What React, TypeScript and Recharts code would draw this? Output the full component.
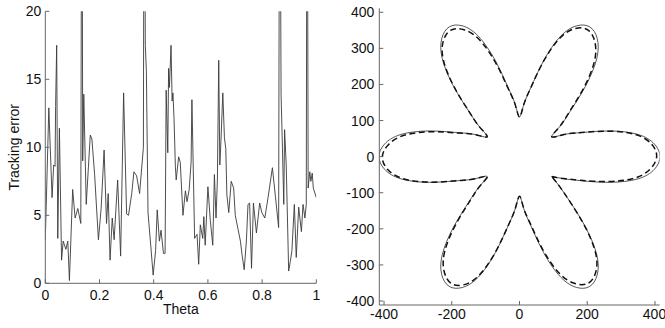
import { Line, LineChart, XAxis, YAxis } from "recharts"

// left panel: tracking error along theta
const theta = [
  0.0, 0.013, 0.025, 0.031, 0.036, 0.038, 0.042, 0.046, 0.052, 0.06, 0.066, 0.076, 0.083, 0.089,
  0.101, 0.11, 0.12, 0.131, 0.135, 0.138, 0.142, 0.151, 0.166, 0.172, 0.182, 0.196, 0.206, 0.217,
  0.226, 0.232, 0.239, 0.247, 0.254, 0.267, 0.278, 0.289, 0.3, 0.307, 0.319, 0.327, 0.337, 0.348,
  0.362, 0.365, 0.369, 0.373, 0.379, 0.389, 0.398, 0.407, 0.413, 0.421, 0.427, 0.436, 0.442, 0.446,
  0.452, 0.455, 0.458, 0.464, 0.468, 0.471, 0.475, 0.48, 0.483, 0.492, 0.498, 0.508, 0.517, 0.523,
  0.531, 0.538, 0.541, 0.551, 0.56, 0.566, 0.572, 0.581, 0.585, 0.59, 0.6, 0.609, 0.618, 0.624,
  0.63, 0.635, 0.64, 0.644, 0.648, 0.655, 0.661, 0.666, 0.67, 0.677, 0.686, 0.695, 0.701, 0.711,
  0.72, 0.726, 0.734, 0.742, 0.748, 0.754, 0.761, 0.768, 0.779, 0.791, 0.799, 0.81, 0.822, 0.838,
  0.849, 0.861, 0.865, 0.87, 0.875, 0.88, 0.883, 0.889, 0.898, 0.904, 0.91, 0.919, 0.926, 0.935,
  0.945, 0.951, 0.958, 0.963, 0.966, 0.97, 0.976, 0.98, 0.985, 0.989, 1.0,
]
const trackingError = [
  3.2, 12.9, 6.3, 8.7, 8.6, 13.0, 17.5, 3.3, 11.4, 1.7, 3.1, 2.5, 3.1, 0.2,
  6.9, 4.8, 5.5, 4.4, 40, 9.0, 13.9, 5.8, 10.9, 10.6, 8.0, 3.2, 5.5, 9.8,
  4.4, 6.6, 1.7, 4.8, 3.2, 7.6, 2.0, 14.0, 5.1, 5.0, 6.6, 8.2, 7.9, 6.6,
  10.0, 40, 17.5, 15.6, 5.2, 2.8, 0.6, 2.4, 5.4, 3.1, 3.9, 2.2, 2.2, 14.2,
  9.6, 15.8, 14.4, 17.5, 13.4, 14.0, 12.1, 8.6, 7.6, 9.3, 8.9, 5.0, 6.8, 6.0,
  6.9, 8.9, 13.5, 3.3, 3.6, 1.4, 4.3, 3.3, 4.9, 2.8, 7.1, 4.6, 2.8, 8.0,
  4.8, 7.6, 16.4, 8.7, 10.4, 14.0, 10.7, 9.9, 6.5, 5.2, 7.5, 7.0, 5.0, 4.0,
  3.1, 2.1, 1.0, 3.1, 5.8, 5.9, 1.1, 5.9, 3.7, 5.9, 5.2, 4.8, 6.3, 8.5,
  6.4, 4.1, 40, 13.9, 10.0, 5.8, 11.3, 8.7, 0.9, 1.6, 2.4, 5.8, 1.9, 5.6,
  3.8, 5.8, 4.8, 5.8, 40, 7.0, 8.2, 7.5, 8.1, 7.0, 6.3,
]
const thetaTicks = [0, 0.2, 0.4, 0.6, 0.8, 1]
const errorTicks = [0, 5, 10, 15, 20]

// right panel: six petal flower, radius read per petal (deg offset from petal axis)
const petalCenters = [0, 60, 120, 180, 240, 300]
const petalOffsets = [-30, -25, -20, -15, -10, -5, 0, 5, 10, 15, 20, 25]
const desiredRadius = [
  [110, 145, 195, 275, 355, 400, 415, 400, 355, 275, 195, 145],
  [110, 145, 195, 275, 355, 400, 415, 400, 355, 275, 195, 145],
  [110, 145, 195, 275, 355, 400, 415, 400, 355, 275, 195, 145],
  [110, 145, 195, 275, 355, 400, 415, 400, 355, 275, 195, 145],
  [110, 145, 195, 275, 355, 400, 415, 400, 355, 275, 195, 145],
  [110, 145, 195, 275, 355, 400, 415, 400, 355, 275, 195, 145],
]
const actualRadius = [
  [110, 144, 191, 267, 344, 388, 405, 392, 350, 273, 195, 145],
  [110, 144, 191, 267, 344, 388, 405, 392, 350, 273, 195, 145],
  [110, 144, 191, 267, 344, 388, 405, 392, 350, 273, 195, 145],
  [110, 144, 191, 267, 344, 388, 405, 392, 350, 273, 195, 145],
  [110, 144, 191, 267, 344, 388, 405, 392, 350, 273, 195, 145],
  [110, 144, 191, 267, 344, 388, 405, 392, 350, 273, 195, 145],
]
const posTicksX = [-400, -200, 0, 200, 400]
const posTicksY = [-400, -300, -200, -100, 0, 100, 200, 300, 400]

function toXY(radius: number[][]) {
  const pts: { x: number; y: number }[] = []
  petalCenters.forEach((c, p) => {
    petalOffsets.forEach((o, k) => {
      const a = ((c + o) * Math.PI) / 180
      pts.push({ x: radius[p][k] * Math.cos(a), y: radius[p][k] * Math.sin(a) })
    })
  })
  pts.push(pts[0])
  return pts
}

const errorData = theta.map((t, i) => ({ theta: t, err: trackingError[i] }))
const desiredData = toXY(desiredRadius)
const actualData = toXY(actualRadius)

const AXIS = "#666"
const tickStyle = { fontSize: 14, fill: "#111" }

export default function App() {
  return (
    <div
      style={{
        position: "absolute",
        left: 0,
        top: 0,
        width: 665,
        height: 328,
        background: "#fff",
        fontFamily: "'Liberation Sans', Arial, sans-serif",
      }}
    >
      <div style={{ position: "absolute", left: 0, top: 0 }}>
        <LineChart width={330} height={328} margin={{ top: 11.3, right: 13.7, bottom: 0, left: 0 }}>
          <XAxis
            dataKey="theta"
            type="number"
            domain={[0, 1]}
            ticks={thetaTicks}
            allowDataOverflow
            height={44.7}
            tickSize={-4}
            tickMargin={11}
            tick={tickStyle}
            axisLine={{ stroke: AXIS }}
            tickLine={{ stroke: AXIS }}
            label={{ value: "Theta", position: "insideBottom", offset: 14, fontSize: 14, fill: "#111" }}
          />
          <XAxis
            xAxisId="top"
            orientation="top"
            dataKey="theta"
            type="number"
            domain={[0, 1]}
            ticks={thetaTicks}
            allowDataOverflow
            height={0}
            tickSize={-4}
            tick={false}
            axisLine={{ stroke: AXIS }}
            tickLine={{ stroke: AXIS }}
          />
          <YAxis
            type="number"
            domain={[0, 20]}
            ticks={errorTicks}
            allowDataOverflow
            width={45.3}
            tickSize={-4}
            tickMargin={8}
            tick={tickStyle}
            axisLine={{ stroke: AXIS }}
            tickLine={{ stroke: AXIS }}
            label={{
              value: "Tracking error",
              angle: -90,
              position: "insideLeft",
              offset: 14,
              fontSize: 14,
              fill: "#111",
              style: { textAnchor: "middle" },
            }}
          />
          <YAxis
            yAxisId="right"
            orientation="right"
            type="number"
            domain={[0, 20]}
            ticks={errorTicks}
            allowDataOverflow
            width={0}
            tickSize={-4}
            tick={false}
            axisLine={{ stroke: AXIS }}
            tickLine={{ stroke: AXIS }}
          />
          <Line
            data={errorData}
            dataKey="err"
            type="linear"
            stroke="#3a3a3a"
            strokeWidth={0.9}
            dot={false}
            isAnimationActive={false}
          />
        </LineChart>
      </div>
      <div style={{ position: "absolute", left: 330, top: 0 }}>
        <LineChart width={335} height={328} margin={{ top: 8.3, right: 5.3, bottom: 0, left: 0 }}>
          <XAxis
            dataKey="x"
            type="number"
            domain={[-414, 414]}
            ticks={posTicksX}
            allowDataOverflow
            height={23}
            tickSize={-4}
            tickMargin={8}
            tick={tickStyle}
            axisLine={{ stroke: AXIS }}
            tickLine={{ stroke: AXIS }}
          />
          <XAxis
            xAxisId="top"
            orientation="top"
            dataKey="x"
            type="number"
            domain={[-414, 414]}
            ticks={posTicksX}
            allowDataOverflow
            height={0}
            tickSize={-4}
            tick={false}
            axisLine={{ stroke: AXIS }}
            tickLine={{ stroke: AXIS }}
          />
          <YAxis
            type="number"
            domain={[-411, 411]}
            ticks={posTicksY}
            allowDataOverflow
            width={49.3}
            tickSize={-4}
            tickMargin={9}
            tick={tickStyle}
            axisLine={{ stroke: AXIS }}
            tickLine={{ stroke: AXIS }}
          />
          <YAxis
            yAxisId="right"
            orientation="right"
            type="number"
            domain={[-411, 411]}
            ticks={posTicksY}
            allowDataOverflow
            width={0}
            tickSize={-4}
            tick={false}
            axisLine={{ stroke: AXIS }}
            tickLine={{ stroke: AXIS }}
          />
          <Line
            data={desiredData}
            dataKey="y"
            type="natural"
            stroke="#444"
            strokeWidth={0.9}
            dot={false}
            isAnimationActive={false}
          />
          <Line
            data={actualData}
            dataKey="y"
            type="natural"
            stroke="#111"
            strokeWidth={1.5}
            strokeDasharray="6 3.5"
            dot={false}
            isAnimationActive={false}
          />
        </LineChart>
      </div>
    </div>
  )
}
